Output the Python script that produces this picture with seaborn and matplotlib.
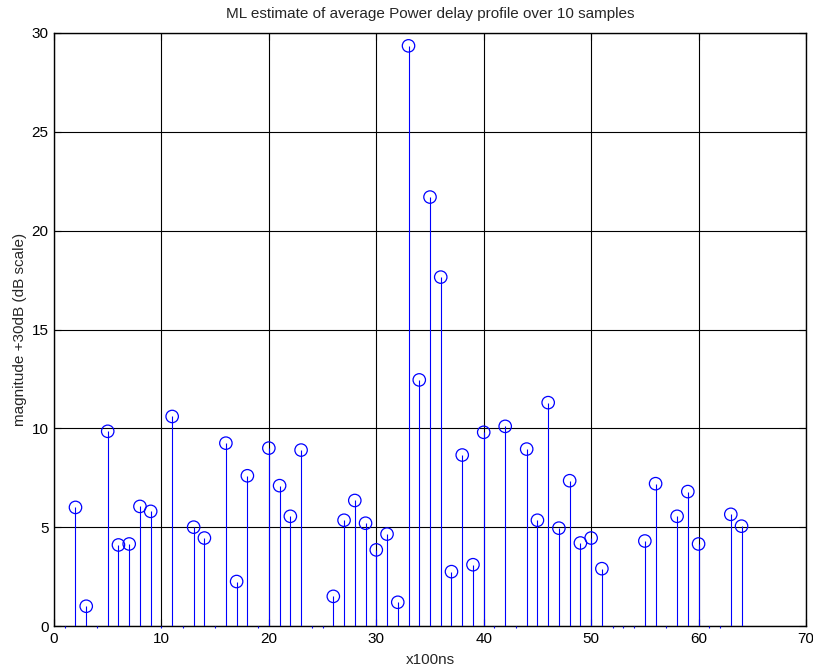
import numpy as np
import pandas as pd
import matplotlib
matplotlib.use("Agg")
import matplotlib.pyplot as plt
import seaborn as sns

# Delay bins (x100 ns) and the ML estimate of average power (dB + 30)
delay_bins = [2, 3, 5, 6, 7, 8, 9, 11, 13, 14, 16, 17, 18, 20, 21, 22, 23,
              26, 27, 28, 29, 30, 31, 32, 33, 34, 35, 36, 37, 38, 39, 40,
              42, 44, 45, 46, 47, 48, 49, 50, 51, 55, 56, 58, 59, 60, 63, 64]
magnitude_db = [6.0, 1.0, 9.85, 4.1, 4.15, 6.05, 5.8, 10.6, 5.0, 4.45, 9.25, 2.25, 7.6,
                9.0, 7.1, 5.55, 8.9, 1.5, 5.35, 6.35, 5.2, 3.85, 4.65, 1.2,
                29.35, 12.45, 21.7, 17.65, 2.75, 8.65, 3.1, 9.8,
                10.1, 8.95, 5.35, 11.3, 4.95, 7.35, 4.2, 4.45, 2.9,
                4.3, 7.2, 5.55, 6.8, 4.15, 5.65, 5.05]

# Bins whose estimate falls below the displayed range
low_bins = [1, 4, 10, 12, 15, 19, 24, 25, 41, 43, 52, 53, 54, 57, 61, 62]
low_values = [-0.12] * len(low_bins)

x_ticks = [0, 10, 20, 30, 40, 50, 60, 70]
y_ticks = [0, 5, 10, 15, 20, 25, 30]

sns.set_theme(style="white")
plt.rcParams["font.family"] = ["Liberation Sans", "DejaVu Sans"]

fig = plt.figure(figsize=(8.13, 6.71), dpi=100)
ax = fig.add_axes([54 / 813, 45 / 671, 752 / 813, 593 / 671])

df = pd.DataFrame({"delay": delay_bins, "mag": magnitude_db})

ax.vlines(df["delay"], 0, df["mag"], color="#0000ff", linewidth=0.8, zorder=3)
ax.vlines(low_bins, 0, low_values, color="#0000ff", linewidth=0.8,
          zorder=3, clip_on=False)
sns.scatterplot(data=df, x="delay", y="mag", ax=ax, marker="o", s=80,
                facecolor="none", edgecolor="#0000ff", linewidth=0.9,
                zorder=4, legend=False)

ax.set_xlim(0, 70)
ax.set_ylim(0, 30)
ax.set_xticks(x_ticks)
ax.set_yticks(y_ticks)
ax.grid(True, color="black", linewidth=0.8, linestyle="-")
ax.set_axisbelow(True)
for s in ax.spines.values():
    s.set_visible(True)
    s.set_color("black")
    s.set_linewidth(1.0)
ax.tick_params(direction="in", length=5, width=0.8, colors="black",
               labelsize=11, top=True, right=True, bottom=True, left=True,
               labelcolor="black", pad=4)

ax.set_xlabel("x100ns", fontsize=11, labelpad=5)
ax.set_ylabel("magnitude +30dB (dB scale)", fontsize=11, labelpad=3)
ax.set_title("ML estimate of average Power delay profile over 10 samples",
             fontsize=11, pad=11)

fig.savefig("out.png", dpi=100, facecolor="white")
